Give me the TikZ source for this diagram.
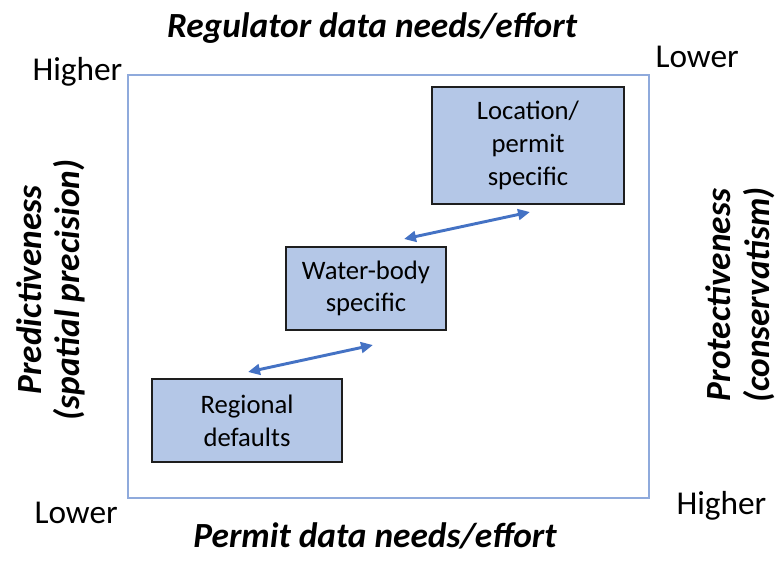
\documentclass[tikz,border=0pt]{standalone}
\usepackage{fontspec}
\setmainfont{Carlito}
\usetikzlibrary{arrows.meta}

\definecolor{framecol}{RGB}{143,170,220}
\definecolor{boxfill}{RGB}{180,199,231}
\definecolor{arrowcol}{RGB}{68,114,196}

\tikzset{every picture/.style={line width=0.75pt}}
\tikzset{
  levelbox/.style={draw={rgb,255:red,30;green,30;blue,30}, line width=1.1pt, fill=boxfill, align=center, inner sep=0pt,
    font=\fontsize{20}{24.5}\selectfont},
  endlabel/.style={anchor=base west, inner sep=0pt, font=\fontsize{25}{30}\selectfont},
  axistitle/.style={inner sep=0pt, font=\fontsize{26.5}{32}\selectfont\bfseries\itshape},
  sidetitle/.style={inner sep=0pt, rotate=90, align=center, font=\fontsize{26.5}{29}\selectfont\bfseries\itshape},
  tradeoff/.style={draw=arrowcol, line width=2.2pt, {Triangle[length=9pt,width=8pt]}-{Triangle[length=9pt,width=8pt]}}
}

\begin{document}
\begin{tikzpicture}[x=0.75pt,y=0.75pt,yscale=-1,xscale=1]
\useasboundingbox (0,0) rectangle (777,561);

%Frame
\draw [framecol, line width=1.1pt] (128,75) rectangle (649,498) ;

%Boxes
\node [levelbox, minimum width=142.5pt, minimum height=62pt] (regional) at (247,420.5) {Regional\\defaults};
\node [levelbox, minimum width=120pt, minimum height=62pt] (waterbody) at (366,288.5) {Water-body\\specific};
\node [levelbox, minimum width=144pt, minimum height=88pt] (location) at (528,145.5) {Location/\\permit\\specific};

%Arrows
\coordinate (lowA) at (248,372);
\coordinate (lowB) at (373,345);
\coordinate (upA) at (404,239);
\coordinate (upB) at (530,212);
\draw [tradeoff] (lowA) -- (lowB) ;
\draw [tradeoff] (upA) -- (upB) ;

% Text Node
\node [axistitle, anchor=base] (regtitle) at (372,37) {Regulator data needs/effort};
% Text Node
\node [axistitle, anchor=base] (permtitle) at (375,547) {Permit data needs/effort};
% Text Node
\node [endlabel] (tlhigh) at (32,80) {Higher};
% Text Node
\node [endlabel] (trlow) at (655,67) {Lower};
% Text Node
\node [endlabel] (bllow) at (34,523) {Lower};
% Text Node
\node [endlabel] (brhigh) at (676,514) {Higher};
% Text Node
\node [sidetitle] (predict) at (51,290) {Predictiveness\\(spatial precision)};
% Text Node
\node [sidetitle] (protect) at (740,295) {Protectiveness\\(conservatism)};

\end{tikzpicture}
\end{document}
